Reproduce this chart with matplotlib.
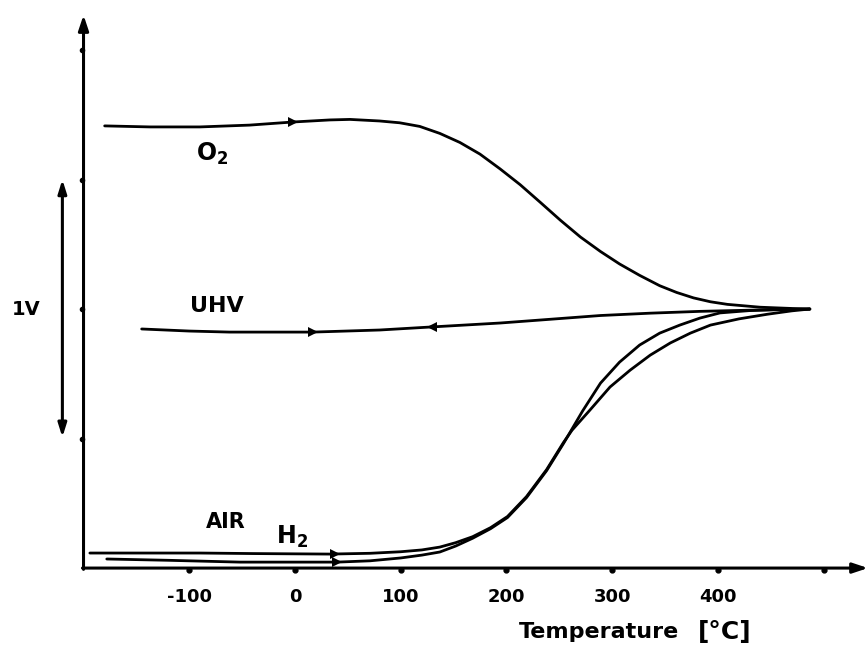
import numpy as np
import matplotlib
matplotlib.use("Agg")
import matplotlib.pyplot as plt

plt.rcParams["font.family"] = ["DejaVu Sans"]
plt.rcParams["font.weight"] = "bold"
plt.rcParams["mathtext.fontset"] = "custom"
plt.rcParams["mathtext.rm"] = "DejaVu Sans:bold"
plt.rcParams["mathtext.bf"] = "DejaVu Sans:bold"

# values (temperature in degC, signal in V)
o2_t = [-180, -137, -90, -43, -2, 33, 52, 80, 99, 118, 137, 156, 175, 194, 213,
        232, 251, 270, 289, 307, 326, 345, 361, 377, 393, 409, 440, 471, 487]
o2_v = [1.707, 1.703, 1.703, 1.710, 1.722, 1.730, 1.732, 1.726, 1.719, 1.705,
        1.678, 1.643, 1.598, 1.541, 1.480, 1.412, 1.343, 1.278, 1.222, 1.174,
        1.130, 1.090, 1.064, 1.043, 1.028, 1.018, 1.007, 1.002, 1.0]

uhv_t = [-145, -100, -62, 17, 80, 130, 194, 240, 289, 336, 383, 435, 487]
uhv_v = [0.923, 0.915, 0.911, 0.911, 0.919, 0.931, 0.946, 0.960, 0.975, 0.984,
         0.991, 0.996, 1.0]

h2_t = [-194, -140, -90, -40, 33, 71, 100, 120, 137, 152, 168, 185, 201, 219,
        238, 254, 262, 279, 298, 317, 336, 355, 374, 393, 420, 447, 470, 487]
h2_v = [0.058, 0.058, 0.058, 0.056, 0.054, 0.057, 0.063, 0.070, 0.081, 0.098,
        0.121, 0.156, 0.199, 0.276, 0.380, 0.485, 0.532, 0.610, 0.699, 0.764,
        0.822, 0.869, 0.907, 0.938, 0.962, 0.980, 0.993, 1.0]

air_t = [-178, -120, -52, 40, 71, 100, 120, 137, 152, 168, 185, 201, 219, 238,
         254, 272, 289, 307, 326, 345, 364, 383, 402, 430, 460, 487]
air_v = [0.035, 0.030, 0.023, 0.023, 0.028, 0.039, 0.050, 0.062, 0.085, 0.115,
         0.152, 0.195, 0.272, 0.376, 0.481, 0.606, 0.714, 0.795, 0.861, 0.907,
         0.938, 0.965, 0.985, 0.994, 0.998, 1.0]

# direction arrows on the curves: (T, V, direction)
arrows = [(-2, 1.722, ">"), (17, 0.911, ">"), (130, 0.931, "<"),
          (38, 0.054, ">"), (40, 0.023, ">")]

x_ticks = [-100, 0, 100, 200, 300, 400, 500]
x_labels = ["-100", "0", "100", "200", "300", "400", ""]
y_ticks = [0.5, 1.0, 1.5, 2.0]

fig = plt.figure(figsize=(8.68, 6.45), dpi=100)
ax = fig.add_axes([0, 0, 1, 1])
ax.set_xlim(-279, 542)
ax.set_ylim(-0.297, 2.193)
ax.axis("off")

lw = 2.0
for t, v in [(o2_t, o2_v), (uhv_t, uhv_v), (h2_t, h2_v), (air_t, air_v)]:
    ax.plot(t, v, color="black", lw=lw, solid_capstyle="round",
            solid_joinstyle="round")

for t, v, m in arrows:
    ax.plot(t, v, marker=m, color="black", ms=7.5, mew=0)

# hand drawn axes with arrow heads
ax.annotate("", xy=(-200, 2.135), xytext=(-200, -0.005),
            arrowprops=dict(arrowstyle="-|>,head_length=0.9,head_width=0.3",
                            color="black", lw=2.2, shrinkA=0, shrinkB=0))
ax.annotate("", xy=(542, 0.0), xytext=(-201, 0.0),
            arrowprops=dict(arrowstyle="-|>,head_length=0.9,head_width=0.3",
                            color="black", lw=2.2, shrinkA=0, shrinkB=0))

ax.plot(x_ticks, np.zeros(len(x_ticks)) - 0.008, "o", color="black", ms=3.5)
ax.plot(np.full(len(y_ticks), -201.5), y_ticks, "o", color="black", ms=3.0)

for t, lab in zip(x_ticks, x_labels):
    ax.text(t, -0.11, lab, ha="center", va="center", fontsize=13)

ax.text(288, -0.247, "Temperature", ha="center", va="center", fontsize=16)
ax.text(406, -0.247, "[°C]", ha="center", va="center", fontsize=18)

# 1 V scale bar
ax.annotate("", xy=(-220, 1.50), xytext=(-220, 0.505),
            arrowprops=dict(arrowstyle="<|-|>,head_length=0.8,head_width=0.25",
                            color="black", lw=2.2, shrinkA=0, shrinkB=0))
ax.text(-254, 1.0, "1V", ha="center", va="center", fontsize=14)

ax.text(-78, 1.60, r"O$_2$", ha="center", va="center", fontsize=17)
ax.text(-74, 1.01, "UHV", ha="center", va="center", fontsize=16)
ax.text(-65, 0.178, "AIR", ha="center", va="center", fontsize=15)
ax.text(-3, 0.12, r"H$_2$", ha="center", va="center", fontsize=17)

fig.savefig("out.png", dpi=100)
